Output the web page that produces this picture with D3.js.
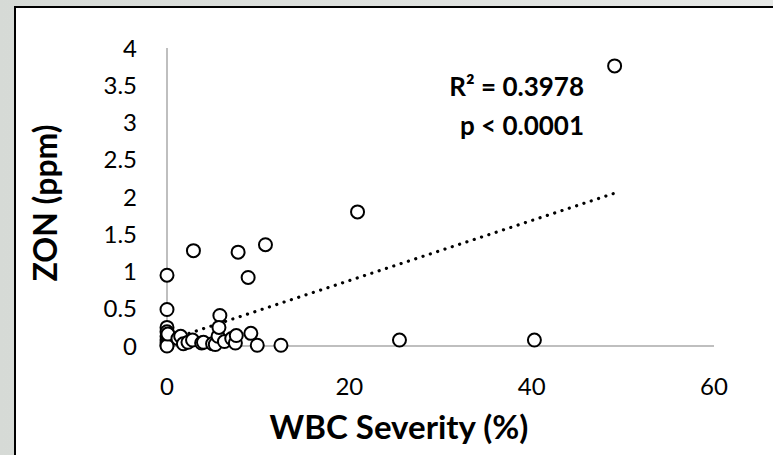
<!DOCTYPE html>
<html>
<head>
<meta charset="utf-8">
<script src="https://cdn.jsdelivr.net/npm/d3@7"></script>
<style>
  body { margin: 0; background: #dcdfdc; }
  svg { display: block; }
</style>
</head>
<body>
<script>
const width = 773;
const height = 455;

// WBC severity (%) and ZON (ppm)
const severity = [0, 0, 0, 0, 0, 0, 0, 0, 0, 0.1,
  1.2, 1.5, 1.8, 2.3, 2.8, 2.9, 3.8, 4.0, 5.0, 5.3,
  5.6, 5.8, 5.7, 6.3, 7.1, 7.5, 7.6, 7.8, 8.9, 9.2,
  9.9, 10.8, 12.5, 20.9, 25.5, 40.3, 49.1];
const zon = [0.95, 0.49, 0.25, 0.19, 0.13, 0.08, 0.04, 0.01, 0.0, 0.16,
  0.1, 0.13, 0.03, 0.05, 0.08, 1.28, 0.04, 0.05, 0.03, 0.02,
  0.13, 0.41, 0.25, 0.06, 0.1, 0.04, 0.14, 1.26, 0.92, 0.17,
  0.01, 1.36, 0.01, 1.8, 0.08, 0.08, 3.76];

const xTicks = [0, 20, 40, 60];
const yTicks = [0, 0.5, 1, 1.5, 2, 2.5, 3, 3.5, 4];

// linear trendline
const trendSlope = 0.0403;
const trendIntercept = 0.072;

const statLines = ["R\u00b2 = 0.3978", "p < 0.0001"];

const font = "Lato, 'Open Sans', sans-serif";

const svg = d3
  .select("body")
  .append("svg")
  .attr("width", width)
  .attr("height", height);

// grey backdrop and chart box
const bg = svg.append("defs").append("linearGradient")
  .attr("id", "bg")
  .attr("x1", "0%").attr("x2", "100%")
  .attr("y1", "0%").attr("y2", "0%");
bg.append("stop").attr("offset", "0%").attr("stop-color", "#d6dad6");
bg.append("stop").attr("offset", "100%").attr("stop-color", "#e6e8e6");

svg.append("rect")
  .attr("width", width).attr("height", height)
  .attr("fill", "url(#bg)");

svg.append("rect")
  .attr("x", 15).attr("y", 7)
  .attr("width", width + 20).attr("height", height + 20)
  .attr("fill", "#fff")
  .attr("stroke", "#000")
  .attr("stroke-width", 2);

const x = d3.scaleLinear().domain([0, 60]).range([167, 714]);
const y = d3.scaleLinear().domain([0, 4]).range([346, 48]);

// axis lines
svg.append("line")
  .attr("x1", x(0)).attr("x2", x(60))
  .attr("y1", y(0)).attr("y2", y(0))
  .attr("stroke", "#bfbfbf").attr("stroke-width", 2);

svg.append("line")
  .attr("x1", x(0)).attr("x2", x(0))
  .attr("y1", y(0)).attr("y2", y(4))
  .attr("stroke", "#bfbfbf").attr("stroke-width", 2);

// tick labels
svg.selectAll(".xt")
  .data(xTicks)
  .join("text")
  .attr("class", "xt")
  .attr("x", (d) => x(d))
  .attr("y", 395)
  .attr("text-anchor", "middle")
  .style("font-family", font)
  .style("font-size", "24px")
  .attr("fill", "#000")
  .text((d) => d);

svg.selectAll(".yt")
  .data(yTicks)
  .join("text")
  .attr("class", "yt")
  .attr("x", 137)
  .attr("y", (d) => y(d))
  .attr("dy", "0.36em")
  .attr("text-anchor", "end")
  .style("font-family", font)
  .style("font-size", "24px")
  .attr("fill", "#000")
  .text((d) => d);

// trendline
svg.append("line")
  .attr("x1", x(0)).attr("y1", y(trendIntercept))
  .attr("x2", x(d3.max(severity)))
  .attr("y2", y(trendIntercept + trendSlope * d3.max(severity)))
  .attr("stroke", "#000")
  .attr("stroke-width", 3.2)
  .attr("stroke-linecap", "round")
  .attr("stroke-dasharray", "0.1 7.6");

// points
svg.selectAll("circle.pt")
  .data(severity.map((s, i) => [s, zon[i]]))
  .join("circle")
  .attr("class", "pt")
  .attr("cx", (d) => x(d[0]))
  .attr("cy", (d) => y(d[1]))
  .attr("r", 6.5)
  .attr("fill", "#fff")
  .attr("stroke", "#000")
  .attr("stroke-width", 2);

// stats annotation
svg.selectAll(".stat")
  .data(statLines)
  .join("text")
  .attr("class", "stat")
  .attr("x", 584)
  .attr("y", (d, i) => 96 + i * 39)
  .attr("text-anchor", "end")
  .style("font-family", font)
  .style("font-size", "26px")
  .style("font-weight", "bold")
  .text((d) => d);

// axis titles
svg.append("text")
  .attr("x", 399)
  .attr("y", 439)
  .attr("text-anchor", "middle")
  .style("font-family", font)
  .style("font-size", "33px")
  .style("font-weight", "bold")
  .text("WBC Severity (%)");

svg.append("text")
  .attr("transform", "translate(57,203) rotate(-90)")
  .attr("text-anchor", "middle")
  .style("font-family", font)
  .style("font-size", "32px")
  .style("font-weight", "bold")
  .text("ZON (ppm)");
</script>
</body>
</html>
